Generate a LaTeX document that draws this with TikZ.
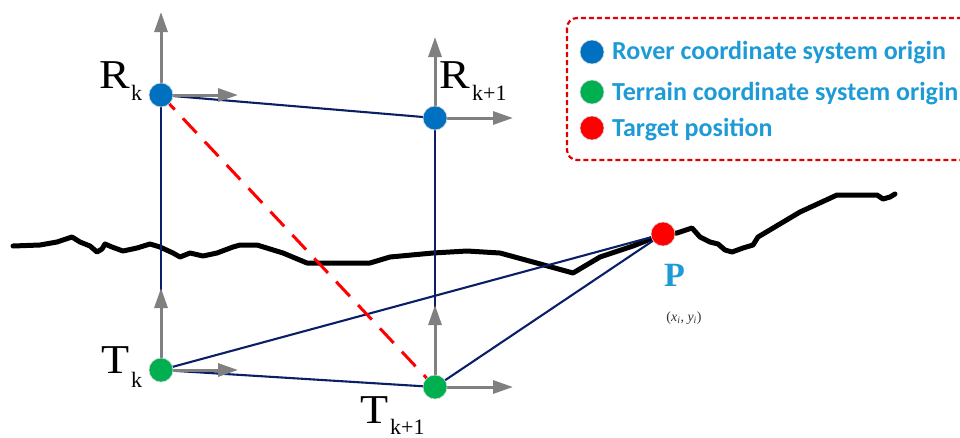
\documentclass[tikz,border=0pt]{standalone}
\usepackage{fontspec}
\setmainfont{Liberation Serif}
\newfontfamily\legfont{Carlito}
\usetikzlibrary{arrows.meta}
\definecolor{navyline}{HTML}{0B1F66}
\definecolor{axisgray}{HTML}{808080}
\definecolor{roverblue}{HTML}{0070C0}
\definecolor{terraingreen}{HTML}{00B050}
\definecolor{targetred}{HTML}{FF0000}
\definecolor{legtext}{HTML}{1E9BD7}
\definecolor{legbox}{HTML}{E00000}
\begin{document}
\begin{tikzpicture}[x=1pt,y=-1pt,
  link/.style={draw=navyline, line width=2.1pt},
  reddash/.style={draw=targetred, line width=3pt, dash pattern=on 20pt off 12pt},
  axis/.style={draw=axisgray, line width=3pt, -{Triangle[length=20pt,width=13pt]}},
  dot/.style={circle, inner sep=0pt, minimum size=24pt, draw=white!85!black, line width=0.6pt},
  bigletter/.style={anchor=base west, inner sep=0pt, font=\fontsize{41}{41}\selectfont},
  subletter/.style={anchor=base west, inner sep=0pt, font=\fontsize{22}{22}\selectfont},
  legtxt/.style={anchor=base west, inner sep=0pt, text=legtext, font=\legfont\bfseries\fontsize{26}{30}\selectfont}]
\useasboundingbox (0,0) rectangle (960,437);
\clip (0,0) rectangle (960,437);
% terrain
\draw[line width=5pt, line join=round, line cap=round] plot coordinates {
 (13,246) (40,245) (57,242) (72,237) (80,242) (90,246) (97,252) (102,249) (105,244)
 (112,247) (123,251) (137,248) (150,244) (160,247) (173,253) (180,257) (190,253)
 (203,256) (217,253) (233,247) (240,245) (257,245) (283,253) (307,263) (370,263)
 (390,257) (433,253) (467,251) (500,253) (533,262) (573,273) (600,257) (633,246)
 (653,238) (663,234) (677,233) (692,228) (700,237) (710,242) (718,244) (725,250)
 (732,252) (743,248) (753,245) (758,237) (800,212) (837,195) (877,195) (883,199)
 (890,197) (895,194)};
% origins
\coordinate (Rk) at (161,95);
\coordinate (Rk1) at (435,118);
\coordinate (Tk) at (161,370);
\coordinate (Tk1) at (435,387);
\coordinate (P) at (663,234);
% axis ends
\coordinate (RkY) at (161,12);
\coordinate (RkX) at (238,95);
\coordinate (Rk1Y) at (435,37);
\coordinate (Rk1X) at (513,118);
\coordinate (TkY) at (161,288);
\coordinate (TkX) at (238,370);
\coordinate (Tk1Y) at (435,305);
\coordinate (Tk1X) at (513,387);
% connectors
\draw[link] (Rk) -- (Rk1);
\draw[link] (Rk) -- (Tk);
\draw[link] (Rk1) -- (Tk1);
\draw[link] (Tk) -- (Tk1);
\draw[link] (Tk) -- (P);
\draw[link] (Tk1) -- (P);
\draw[reddash] (Rk) -- (Tk1);
% axes
\draw[axis] (Rk) -- (RkY);
\draw[axis] (Rk) -- (RkX);
\draw[axis] (Rk1) -- (Rk1Y);
\draw[axis] (Rk1) -- (Rk1X);
\draw[axis] (Tk) -- (TkY);
\draw[axis] (Tk) -- (TkX);
\draw[axis] (Tk1) -- (Tk1Y);
\draw[axis] (Tk1) -- (Tk1X);
% dots
\node[dot, fill=roverblue] (RkDot) at (Rk) {};
\node[dot, fill=roverblue] (Rk1Dot) at (Rk1) {};
\node[dot, fill=terraingreen] (TkDot) at (Tk) {};
\node[dot, fill=terraingreen] (Tk1Dot) at (Tk1) {};
\node[dot, fill=targetred] (PDot) at (P) {};
% labels
\node[bigletter] (RkL) at (99,88) {\scalebox{1.12}[1]{R}};
\node[subletter] (RkS) at (131,100) {k};
\node[bigletter] (Rk1L) at (439,88) {\scalebox{1.12}[1]{R}};
\node[subletter] (Rk1S) at (472,100) {k+1};
\node[bigletter] (TkL) at (101,373) {\scalebox{1.12}[1]{T}};
\node[subletter] (TkS) at (131,387) {k};
\node[bigletter] (Tk1L) at (360,423) {\scalebox{1.12}[1]{T}};
\node[subletter] (Tk1S) at (390,434) {k+1};
\node[anchor=base west, inner sep=0pt, text=legtext, font=\bfseries\fontsize{34}{34}\selectfont] (PL) at (664,286) {P};
\node[inner sep=0pt, text=black!80, font=\fontsize{14}{14}\selectfont] (PC) at (684,318) {(\textit{x}\textsubscript{\textit{i}}, \textit{y}\textsubscript{\textit{i}})};
% legend
\draw[legbox, line width=2.2pt, dash pattern=on 5pt off 3pt, rounded corners=10pt] (567,18) rectangle (990,160);
\node[dot, fill=roverblue] (L1) at (592,52) {};
\node[dot, fill=terraingreen] (L2) at (592,92) {};
\node[dot, fill=targetred] (L3) at (592,128) {};
\node[legtxt] (L1t) at (612,59) {Rover coordinate system origin};
\node[legtxt] (L2t) at (612,100) {Terrain coordinate system origin};
\node[legtxt] (L3t) at (612,136) {Target position};
\end{tikzpicture}
\end{document}
